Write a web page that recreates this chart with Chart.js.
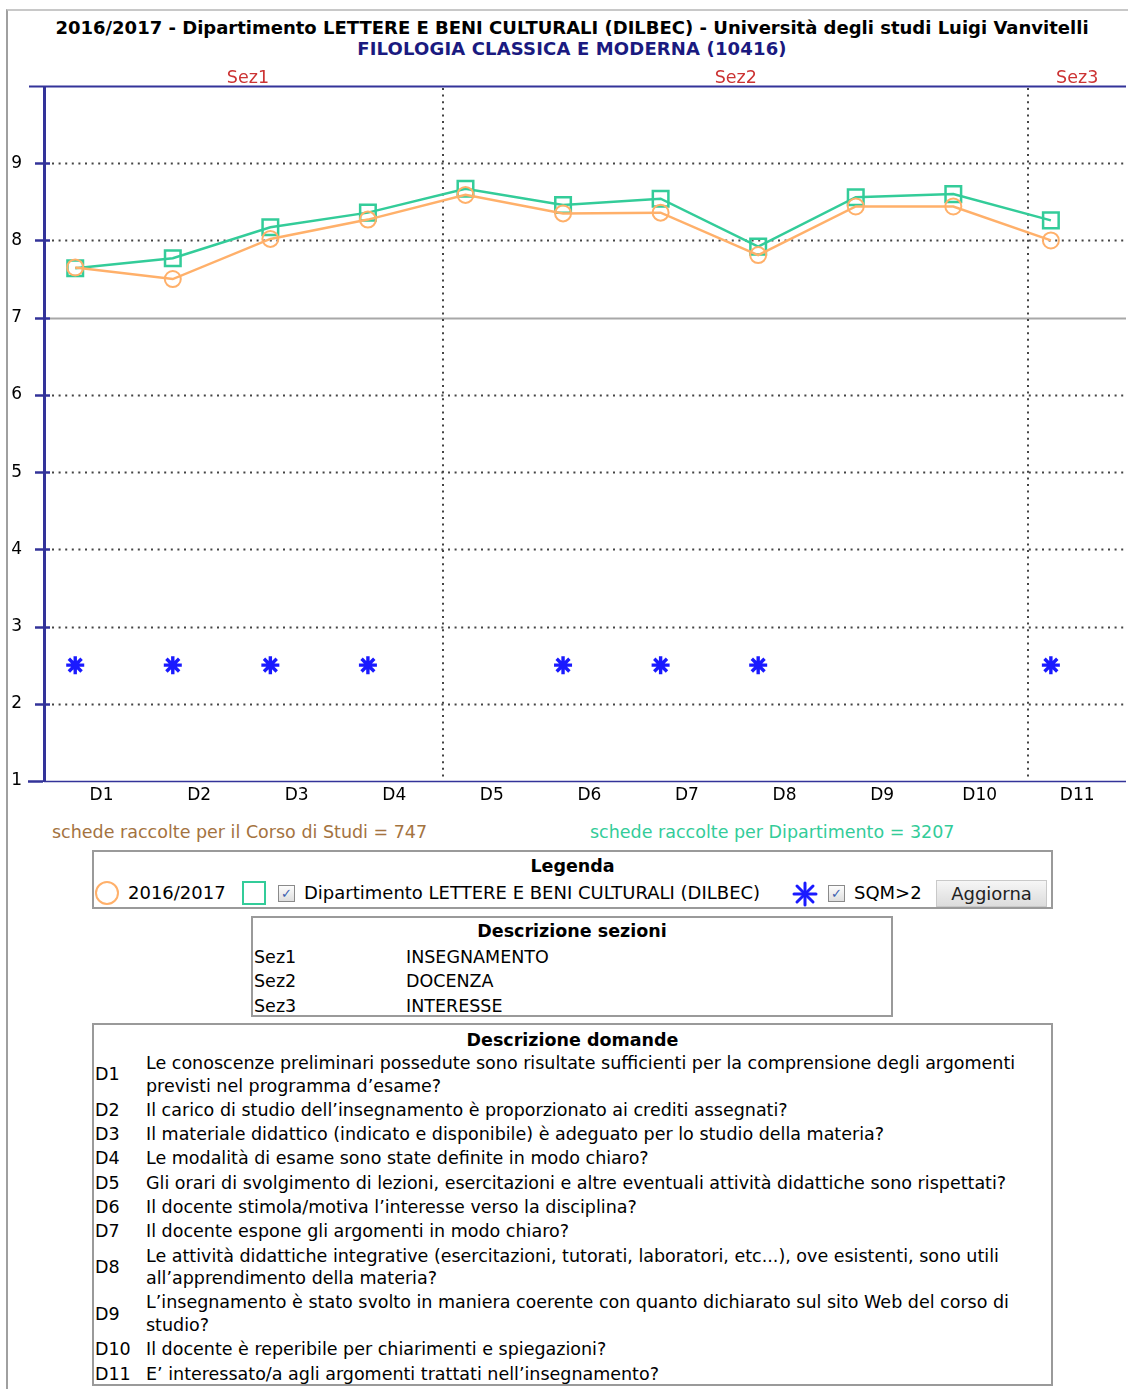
<!DOCTYPE html>
<html>
<head>
<meta charset="utf-8">
<script src="https://cdn.jsdelivr.net/npm/chart.js@4.4.1/dist/chart.umd.min.js"></script>
<style>
  body { margin: 0; background: #fff; font-family: "DejaVu Sans", Verdana, sans-serif; color: #000; }
  #page { position: relative; width: 1128px; height: 1389px; overflow: hidden; }
  #frame { position: absolute; left: 6px; top: 9px; right: -2px; bottom: -2px; border-left: 2px solid #a0a0a0; border-top: 2px solid #c8c8c8; }
  #chartWrap { position: absolute; left: 0; top: 0; }
  .title { position: absolute; left: 0; width: 1144px; text-align: center; font-weight: bold; white-space: nowrap; }
  #t1 { top: 17px; font-size: 18px; }
  #t2 { top: 38px; font-size: 18px; color: #1a1a80; letter-spacing: 0.15px; }
  .count { position: absolute; top: 822px; font-size: 17.5px; white-space: nowrap; }
  .box { position: absolute; border: 2px solid #9a9a9a; box-sizing: border-box; font-size: 17.5px; }
  .box h4 { margin: 0; font-size: 17.5px; text-align: center; font-weight: bold; }
  #legend { left: 92px; top: 850px; width: 961px; height: 59px; }
  #legend h4 { margin-top: 4px; }
  #legend .row { position: absolute; left: 0; top: 28px; height: 26px; width: 100%; font-size: 18px; }
  #legend .row > * { position: absolute; }
  .chk { width: 17px; height: 17px; border: 1px solid #8a8a8a; background: linear-gradient(#fdfdfd,#dedede); box-sizing: border-box; font-size: 13px; line-height: 15px; text-align: center; color: #3a5fb0; }
  #btn { left: 842px; top: 0; width: 111px; height: 27px; background: linear-gradient(#f6f6f6,#dcdcdc); border: 1px solid #c9c9c9; box-sizing: border-box; font-size: 18px; text-align: center; line-height: 25px; color: #222; }
  #sez { left: 251px; top: 916px; width: 642px; height: 101px; }
  #sez h4 { margin-top: 3px; margin-bottom: 3.5px; }
  #dom { left: 92px; top: 1023px; width: 961px; height: 363px; }
  #dom h4 { margin-top: 5px; margin-bottom: 1px; }
  table { border-collapse: collapse; width: 100%; }
  td { padding: 0; vertical-align: middle; }
  #sez td { line-height: 24.5px; }
  #sez td:first-child { width: 152px; padding-left: 1px; }
  #dom td { line-height: 22.6px; padding-top: 1px; padding-bottom: 0.7px; }
  #dom td:first-child { width: 51px; padding-left: 1px; }
</style>
</head>
<body>
<div id="page">
  <div id="frame"></div>
  <div class="title" id="t1">2016/2017 - Dipartimento LETTERE E BENI CULTURALI (DILBEC) - Università degli studi Luigi Vanvitelli</div>
  <div class="title" id="t2">FILOLOGIA CLASSICA E MODERNA (10416)</div>
  <div id="chartWrap"><canvas id="chart" width="1128" height="817"></canvas></div>
  <div class="count" style="left:52px;color:#a4733f">schede raccolte per il Corso di Studi = 747</div>
  <div class="count" style="left:590px;color:#33cc99">schede raccolte per Dipartimento = 3207</div>

  <div class="box" id="legend">
    <h4>Legenda</h4>
    <div class="row">
      <span style="left:1px;top:1px;width:24px;height:24px;border:2.5px solid #ffb06a;border-radius:50%;box-sizing:border-box"></span>
      <span style="left:34px;top:2px">2016/2017</span>
      <span style="left:148px;top:1px;width:24px;height:24px;border:2.5px solid #33cc99;box-sizing:border-box"></span>
      <span class="chk" style="left:184px;top:5px">✓</span>
      <span style="left:210px;top:2px">Dipartimento LETTERE E BENI CULTURALI (DILBEC)</span>
      <svg style="left:698px;top:1px" width="26" height="26" viewBox="0 0 26 26">
        <g stroke="#1a1aff" stroke-width="3" stroke-linecap="round">
          <line x1="13" y1="2" x2="13" y2="24"/><line x1="2" y1="13" x2="24" y2="13"/>
          <line x1="5" y1="5" x2="21" y2="21"/><line x1="21" y1="5" x2="5" y2="21"/>
        </g>
      </svg>
      <span class="chk" style="left:734px;top:5px">✓</span>
      <span style="left:760px;top:2px">SQM&gt;2</span>
      <span id="btn">Aggiorna</span>
    </div>
  </div>

  <div class="box" id="sez">
    <h4>Descrizione sezioni</h4>
    <table id="sezTable"></table>
  </div>

  <div class="box" id="dom">
    <h4>Descrizione domande</h4>
    <table id="domTable"></table>
  </div>
</div>

<script>
// questions D1..D11
const questionLabels = ["D1", "D2", "D3", "D4", "D5", "D6", "D7", "D8", "D9", "D10", "D11"];
// year 2016/2017 (course) averages
const courseValues = [7.65, 7.50, 8.02, 8.27, 8.59, 8.35, 8.36, 7.81, 8.44, 8.44, 8.00];
// department averages
const deptValues = [7.64, 7.77, 8.17, 8.36, 8.67, 8.46, 8.54, 7.92, 8.56, 8.60, 8.26];
// SQM>2 markers (null = no marker)
const sqmValues = [2.5, 2.5, 2.5, 2.5, null, 2.5, 2.5, 2.5, null, null, 2.5];
// y axis tick labels
const yTickValues = [1, 2, 3, 4, 5, 6, 7, 8, 9, 10];
// sections: name, first and last question
const sectionNames = ["Sez1", "Sez2", "Sez3"];
const sectionFirst = [1, 5, 11];
const sectionLast = [4, 10, 11];
const sectionDescr = ["INSEGNAMENTO", "DOCENZA", "INTERESSE"];
const questionTexts = [
  "Le conoscenze preliminari possedute sono risultate sufficienti per la comprensione degli argomenti previsti nel programma d’esame?",
  "Il carico di studio dell’insegnamento è proporzionato ai crediti assegnati?",
  "Il materiale didattico (indicato e disponibile) è adeguato per lo studio della materia?",
  "Le modalità di esame sono state definite in modo chiaro?",
  "Gli orari di svolgimento di lezioni, esercitazioni e altre eventuali attività didattiche sono rispettati?",
  "Il docente stimola/motiva l’interesse verso la disciplina?",
  "Il docente espone gli argomenti in modo chiaro?",
  "Le attività didattiche integrative (esercitazioni, tutorati, laboratori, etc...), ove esistenti, sono utili all’apprendimento della materia?",
  "L’insegnamento è stato svolto in maniera coerente con quanto dichiarato sul sito Web del corso di studio?",
  "Il docente è reperibile per chiarimenti e spiegazioni?",
  "E’ interessato/a agli argomenti trattati nell’insegnamento?"
];

// tables
document.getElementById("sezTable").innerHTML = sectionNames
  .map((s, i) => `<tr><td>${s}</td><td>${sectionDescr[i]}</td></tr>`).join("");
document.getElementById("domTable").innerHTML = questionLabels
  .map((q, i) => `<tr><td>${q}</td><td>${questionTexts[i]}</td></tr>`).join("");

const NAVY = "#333399";
// each question occupies [n - 0.23, n + 0.77); points sit at n, labels at the middle
const catStart = (n) => n - 0.23;

const xy = (arr) => arr.map((v, i) => ({ x: i + 1, y: v }));

const framePlugin = {
  id: "frame",
  beforeDatasetsDraw(chart) {
    const { ctx, chartArea: a, scales: { x, y } } = chart;
    ctx.save();
    // horizontal lines
    yTickValues.forEach((v) => {
      const py = Math.round(y.getPixelForValue(v)) + 0.5;
      ctx.beginPath();
      ctx.setLineDash([]);
      if (v === 10) {
        ctx.strokeStyle = NAVY; ctx.lineWidth = 2;
        ctx.moveTo(29, py); ctx.lineTo(a.right, py);
      } else if (v === 1) {
        ctx.strokeStyle = NAVY; ctx.lineWidth = 1.5;
        ctx.moveTo(a.left, py); ctx.lineTo(a.right, py);
      } else if (v === 7) {
        ctx.strokeStyle = "#a8a8a8"; ctx.lineWidth = 2;
        ctx.moveTo(a.left + 6, py); ctx.lineTo(a.right, py);
      } else {
        ctx.strokeStyle = "#444"; ctx.lineWidth = 2;
        ctx.setLineDash([2, 4.6]);
        ctx.moveTo(a.left + 8, py); ctx.lineTo(a.right, py);
      }
      ctx.stroke();
      // tick marks crossing the axis
      if (v < 10) {
        ctx.beginPath(); ctx.setLineDash([]);
        ctx.strokeStyle = NAVY; ctx.lineWidth = 2.5;
        const x0 = v === 1 ? 28 : 35;
        ctx.moveTo(x0, py); ctx.lineTo(x0 + 15, py); ctx.stroke();
      }
    });
    // section separators
    ctx.strokeStyle = "#444"; ctx.lineWidth = 2; ctx.setLineDash([2, 4.6]);
    sectionFirst.slice(1).forEach((n) => {
      const px = Math.round(x.getPixelForValue(catStart(n)));
      ctx.beginPath(); ctx.moveTo(px, a.top + 2); ctx.lineTo(px, a.bottom); ctx.stroke();
    });
    // left axis
    ctx.setLineDash([]);
    ctx.strokeStyle = NAVY; ctx.lineWidth = 3;
    ctx.beginPath(); ctx.moveTo(a.left + 0.5, a.top); ctx.lineTo(a.left + 0.5, a.bottom + 1); ctx.stroke();
    // section names
    ctx.fillStyle = "#cc3333";
    ctx.font = "17.5px 'DejaVu Sans'";
    ctx.textAlign = "center"; ctx.textBaseline = "middle";
    sectionNames.forEach((s, i) => {
      const x0 = x.getPixelForValue(catStart(sectionFirst[i]));
      const x1 = x.getPixelForValue(catStart(sectionLast[i] + 1));
      ctx.fillText(s, (x0 + x1) / 2, a.top - 8);
    });
    ctx.restore();
  }
};

Chart.defaults.font.family = "'DejaVu Sans', Verdana, sans-serif";
Chart.defaults.font.size = 17;
Chart.defaults.color = "#000";

new Chart(document.getElementById("chart"), {
  type: "line",
  data: {
    datasets: [
      {
        label: "2016/2017",
        data: xy(courseValues),
        borderColor: "#ffb06a",
        borderWidth: 2.5,
        pointStyle: "circle",
        pointRadius: 8,
        pointBorderWidth: 2,
        pointBorderColor: "#ffb06a",
        pointBackgroundColor: "rgba(255,255,255,0)",
        tension: 0
      },
      {
        label: "Dipartimento LETTERE E BENI CULTURALI (DILBEC)",
        data: xy(deptValues),
        borderColor: "#33cc99",
        borderWidth: 2.5,
        pointStyle: "rect",
        pointRadius: 11,
        pointBorderWidth: 2.5,
        pointBorderColor: "#33cc99",
        pointBackgroundColor: "rgba(255,255,255,0)",
        tension: 0
      },
      {
        label: "SQM>2",
        data: xy(sqmValues),
        showLine: false,
        pointStyle: "star",
        pointRadius: 9,
        pointBorderWidth: 3.4,
        pointBorderColor: "#1a1aff",
        pointBackgroundColor: "#1a1aff"
      }
    ]
  },
  options: {
    responsive: false,
    animation: false,
    layout: { autoPadding: false, padding: { top: 86, right: 2, left: 0, bottom: 0 } },
    plugins: { legend: { display: false }, tooltip: { enabled: false } },
    scales: {
      x: {
        type: "linear",
        min: catStart(1) - 0.09,
        max: catStart(questionLabels.length + 1),
        grid: { display: false, drawTicks: false },
        border: { display: false },
        afterBuildTicks(scale) {
          scale.ticks = questionLabels.map((_, i) => ({ value: catStart(i + 1) + 0.5 }));
        },
        afterFit(scale) {
          scale.height = 36;
          scale.paddingLeft = 0;
          scale.paddingRight = 0;
        },
        ticks: {
          autoSkip: false,
          maxRotation: 0,
          padding: 4,
          font: { size: 17 },
          callback: (v) => questionLabels[Math.round(v - catStart(1) - 0.5)]
        }
      },
      y: {
        min: 1,
        max: 10,
        grid: { display: false, drawTicks: false },
        border: { display: false },
        afterBuildTicks(scale) {
          scale.ticks = yTickValues.map((v) => ({ value: v }));
        },
        afterFit(scale) {
          scale.width = 44;
          scale.paddingTop = 0;
          scale.paddingBottom = 0;
        },
        ticks: {
          padding: 22,
          font: { size: 17 },
          callback: (v) => (v === 10 ? "" : String(v))
        }
      }
    }
  },
  plugins: [framePlugin]
});
</script>
</body>
</html>
